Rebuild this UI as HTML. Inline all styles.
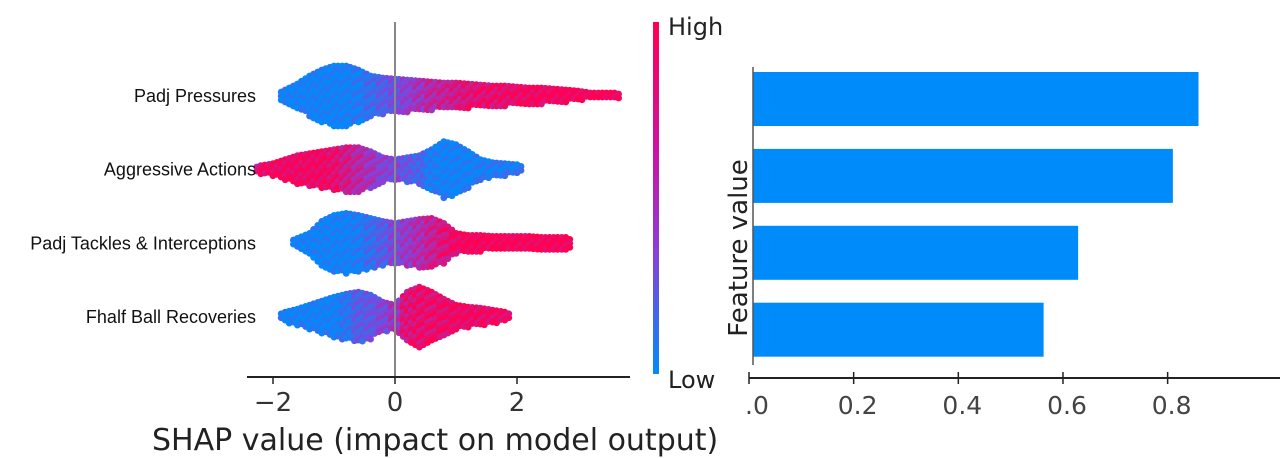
<!DOCTYPE html>
<html><head><meta charset="utf-8"><style>
html,body{margin:0;padding:0;background:#fff;width:1280px;height:458px;overflow:hidden}
svg{display:block;font-family:"DejaVu Sans","Liberation Sans",sans-serif}
</style></head><body>
<svg id="chart" width="1280" height="458" viewBox="0 0 1280 458" xmlns="http://www.w3.org/2000/svg">
<defs><linearGradient id="cg" x1="0" y1="0" x2="0" y2="1">
<stop offset="0" stop-color="#ff0052"/><stop offset="0.35" stop-color="#d1109e"/><stop offset="0.65" stop-color="#8a3fd8"/><stop offset="1" stop-color="#008bfb"/></linearGradient></defs>
<g id="swarm"></g>
<line x1="395" y1="22" x2="395" y2="377" stroke="#888" stroke-width="2"/>
<line x1="247" y1="377" x2="630" y2="377" stroke="#222" stroke-width="2"/>
<g id="lticks"></g>
<g id="llabels" font-family="Liberation Sans, sans-serif" font-size="18" fill="#111" text-anchor="end"></g>
<text x="152" y="450" font-size="30" fill="#222">SHAP value (impact on model output)</text>
<rect x="653" y="22" width="6" height="352" fill="url(#cg)"/>
<text x="668" y="35" font-size="24" fill="#222">High</text>
<text x="668" y="388" font-size="24" fill="#222">Low</text>
<g id="bars"></g>
<line x1="753" y1="67" x2="753" y2="365" stroke="#555" stroke-width="1.5"/>
<line x1="749" y1="378" x2="1280" y2="378" stroke="#222" stroke-width="2"/>
<g id="rticks"></g>
<text transform="translate(747,248) rotate(-90)" text-anchor="middle" font-size="26" fill="#222">Feature value</text>
</svg>
<script>
const features = ["Padj Pressures","Aggressive Actions","Padj Tackles & Interceptions","Fhalf Ball Recoveries"];
const binCenters = [-2.2,-2.0,-1.8,-1.6,-1.4,-1.2,-1.0,-0.8,-0.6,-0.4,-0.2,0,0.2,0.4,0.6,0.8,1.0,1.2,1.4,1.6,1.8,2.0,2.2,2.4,2.6,2.8,3.0,3.2,3.4,3.6,3.8];
const spread1 = [0,0,6,12,20,26,30,30,26,20,18,17,16,15,14,13,13,12,11,10,10,9,8,8,7,6,5,3,3,3,0];
const spread2 = [4,6,10,14,16,18,20,22,22,18,12,10,12,14,20,28,25,18,10,7,6,5,0,0,0,0,0,0,0,0,0];
const spread3 = [0,0,0,5,10,22,28,30,28,25,22,20,22,24,25,20,10,8,8,7,7,7,7,6,6,6,0,0,0,0,0];
const spread4 = [0,0,5,8,12,16,20,23,25,22,15,12,25,30,25,18,12,10,9,7,5,0,0,0,0,0,0,0,0,0,0];
const color1 = [0,0,0.05,0.05,0.05,0.05,0.05,0.05,0.1,0.2,0.3,0.4,0.5,0.6,0.7,0.75,0.8,0.85,0.88,0.9,0.92,0.94,0.96,0.97,0.98,1,1,1,1,1,1];
const color2 = [0.95,0.95,0.95,0.95,0.95,0.95,0.9,0.8,0.7,0.6,0.5,0.45,0.35,0.25,0.1,0.05,0.05,0.05,0.08,0.1,0.1,0.1,0,0,0,0,0,0,0,0,0];
const color3 = [0,0,0,0.05,0.05,0.05,0.05,0.05,0.1,0.2,0.3,0.45,0.55,0.65,0.75,0.85,0.95,1,1,1,1,1,1,1,1,1,0,0,0,0,0];
const color4 = [0,0,0.05,0.05,0.05,0.05,0.05,0.15,0.3,0.35,0.45,0.6,0.85,0.9,0.9,0.92,0.95,0.95,0.95,0.95,0.95,0,0,0,0,0,0,0,0,0,0];
const shapTicks = [-2,0,2];
const barValues = [0.859,0.81,0.629,0.563];
const barTicks = [0,0.2,0.4,0.6,0.8];
const barTickLabels = [".0","0.2","0.4","0.6","0.8"];

const NS="http://www.w3.org/2000/svg";
const sx = v => 395 + v*61;
const rowY = i => 96 + i*73.7;
const bx = v => 749 + v*523.3;
function mk(tag, attrs, parent){const e=document.createElementNS(NS,tag);for(const k in attrs)e.setAttribute(k,attrs[k]);parent.appendChild(e);return e;}
function mix(t){const a=[0,139,251],b=[255,0,82];const m=[138,63,216];let c;
 if(t<0.5){const u=t/0.5;c=a.map((v,i)=>v+(m[i]-v)*u);}else{const u=(t-0.5)/0.5;c=m.map((v,i)=>v+(b[i]-v)*u);}
 return `rgb(${c.map(Math.round).join(',')})`;}
const spreads=[spread1,spread2,spread3,spread4], colors=[color1,color2,color3,color4];
const sw=document.getElementById('swarm');
spreads.forEach((sp,fi)=>{
 const g=mk('g',{},sw);
 
 
 const cy=rowY(fi);
 for(let b=0;b<binCenters.length;b++){
  const h0=sp[b]; if(h0<=0) continue;
  const x0=sx(binCenters[b]);
  for(let k=-1;k<=1;k++){
   const x=x0+k*4;
   const nb=k<0?b-1:(k>0?b+1:b);
   const hn=(nb>=0&&nb<sp.length)?sp[nb]:0;
   const h=h0+(hn-h0)*Math.abs(k)/3;
   let j=0;
   for(let y=-h;y<=h;y+=4){
    const alt=((j+k+b)%3)-1;
    const t=Math.max(0,Math.min(1,colors[fi][b]+alt*0.12));
    const c=mk('circle',{cx:x,cy:cy+y,r:3.4,fill:mix(t)},g);
    
    
    j++;
   }
  }
 }
});
const lt=document.getElementById('lticks');
shapTicks.forEach(v=>{
 const l=mk('line',{x1:sx(v),x2:sx(v),y1:377,y2:384,stroke:'#222','stroke-width':1.5},lt);
 
 
 const t=mk('text',{x:sx(v),y:411,'text-anchor':'middle','font-size':26,fill:'#333'},lt);
 
 
 t.textContent=v<0?'\u2212'+Math.abs(v):String(v);
});
const ll=document.getElementById('llabels');
features.forEach((f,i)=>{
 const t=mk('text',{x:256,y:rowY(i)+6},ll);
 
 
 t.textContent=f;
});
const bg=document.getElementById('bars');
barValues.forEach((v,i)=>{
 const r=mk('rect',{x:bx(0)+4,y:72+i*76.9,width:bx(v)-bx(0)-4,height:54,fill:'#008bfb'},bg);
 
 
});
const rt=document.getElementById('rticks');
barTicks.forEach((v,i)=>{
 const l=mk('line',{x1:bx(v),x2:bx(v),y1:372,y2:384,stroke:'#222','stroke-width':1.5},rt);
 
 
 const t=mk('text',{x:i===0?bx(v)-4:bx(v)+4,y:414,'text-anchor':i===0?'start':'middle','font-size':25,fill:'#444'},rt);
 
 
 t.textContent=barTickLabels[i];
});
</script>
</body></html>
